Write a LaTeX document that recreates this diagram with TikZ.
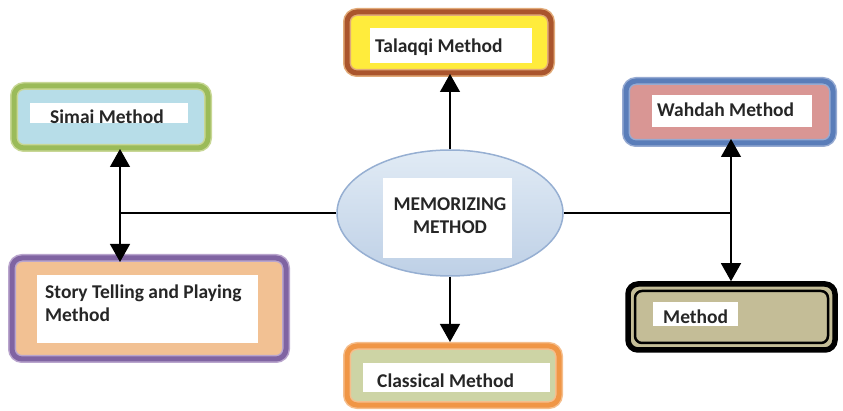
\documentclass[tikz,border=0pt]{standalone}
\usepackage{fontspec}
\setmainfont{Carlito}
\usetikzlibrary{arrows.meta,shapes.geometric}
\definecolor{talFill}{RGB}{255,236,60}
\definecolor{talDark}{RGB}{170,85,45}
\definecolor{talLight}{RGB}{225,170,120}
\definecolor{simFill}{RGB}{183,221,232}
\definecolor{simDark}{RGB}{155,187,89}
\definecolor{simLight}{RGB}{200,215,150}
\definecolor{wahFill}{RGB}{217,150,148}
\definecolor{wahDark}{RGB}{90,125,185}
\definecolor{wahLight}{RGB}{150,170,210}
\definecolor{stoFill}{RGB}{242,193,147}
\definecolor{stoDark}{RGB}{128,100,162}
\definecolor{stoLight}{RGB}{185,165,205}
\definecolor{claFill}{RGB}{205,212,165}
\definecolor{claDark}{RGB}{240,150,70}
\definecolor{claLight}{RGB}{245,190,140}
\definecolor{metFill}{RGB}{196,189,151}
\definecolor{ellBorder}{RGB}{150,175,210}
\definecolor{ellTop}{RGB}{225,235,245}
\definecolor{ellBot}{RGB}{190,208,230}
\definecolor{txtCol}{RGB}{38,38,38}
\begin{document}
\begin{tikzpicture}[x=1pt,y=-1pt,
  frame/.style={rectangle, rounded corners=10pt, line width=1.5pt,
    double distance=5pt, inner sep=0pt, outer sep=4pt},
  wbox/.style={rectangle, fill=white, inner sep=0pt},
  txt/.style={font=\bfseries\fontsize{19.5}{22.7}\selectfont, text=txtCol, inner sep=0pt},
  conn/.style={line width=1.2pt, black},
  tip/.tip={Triangle[width=20pt,length=18pt]}]
\useasboundingbox (0,0) rectangle (843,411);

% Talaqqi
\node[frame, draw=talLight, double=talDark, fill=talFill,
  minimum width=204pt, minimum height=61pt] (tal) at (449,42.5) {};
\node[wbox, minimum width=162pt, minimum height=35pt] (talw) at (451,45.5) {};
\node[txt, anchor=base west] (talt) at (375,53) {Talaqqi Method};

% Simai
\node[frame, draw=simLight, double=simDark, fill=simFill,
  minimum width=194pt, minimum height=62pt] (sim) at (111,117) {};
\node[wbox, minimum width=158pt, minimum height=20pt] (simw) at (109,113) {};
\node[txt, anchor=base west] (simt) at (50,124) {Simai Method};

% Wahdah
\node[frame, draw=wahLight, double=wahDark, fill=wahFill,
  minimum width=207pt, minimum height=62pt] (wah) at (729.5,112) {};
\node[wbox, minimum width=160pt, minimum height=32pt] (wahw) at (732,111) {};
\node[txt, anchor=base west] (waht) at (657,117) {Wahdah Method};

% Story
\node[frame, draw=stoLight, double=stoDark, fill=stoFill,
  minimum width=274pt, minimum height=101pt] (sto) at (149,308.5) {};
\node[wbox, minimum width=221pt, minimum height=68pt] (stow) at (147.5,309) {};
\node[txt, anchor=north west, align=left] (stot) at (45,285)
  {Story Telling and Playing\\Method};

% Classical
\node[frame, draw=claLight, double=claDark, fill=claFill,
  minimum width=212pt, minimum height=59pt] (cla) at (453,375.5) {};
\node[wbox, minimum width=187pt, minimum height=29pt] (claw) at (456.5,377.5) {};
\node[txt, anchor=base west] (clat) at (377,387) {Classical Method};

% Method (black)
\node[rectangle, rounded corners=10pt, draw=black, line width=5.5pt, fill=metFill,
  inner sep=0pt, outer sep=2.75pt, minimum width=207pt, minimum height=66pt] (met) at (731.5,317) {};
\node[rectangle, rounded corners=7pt, draw=black, line width=2.5pt, fill=metFill,
  inner sep=0pt, minimum width=193pt, minimum height=52pt] (meti) at (731.5,317) {};
\node[wbox, minimum width=85pt, minimum height=24pt] (metw) at (695.5,314) {};
\node[txt, anchor=base west] (mett) at (663,324) {Method};

% Centre ellipse
\node[ellipse, draw=ellBorder, line width=1.5pt, top color=ellTop, bottom color=ellBot,
  inner sep=0pt, minimum width=226pt, minimum height=126pt] (mem) at (450,213) {};
\node[wbox, minimum width=129pt, minimum height=80pt] (memw) at (447.5,218) {};
\node[txt, align=center] (memt) at (450,216) {MEMORIZING\\METHOD};

% Connectors
\coordinate (jl) at (120,213);
\coordinate (jr) at (731,213);
\draw[conn] (mem.west) -- (jl);
\draw[conn] (mem.east) -- (jr);
\draw[conn, tip-tip, shorten <=-3pt, shorten >=-8pt] (jl |- sim.south) -- (jl |- sto.north);
\draw[conn, tip-tip, shorten <=-8pt] (jr |- wah.south) -- (jr |- met.north);
\draw[conn, -tip, shorten >=-3pt] (mem.north) -- (mem.north |- tal.south);
\draw[conn, -tip] (mem.south) -- (mem.south |- cla.north);
\end{tikzpicture}
\end{document}
